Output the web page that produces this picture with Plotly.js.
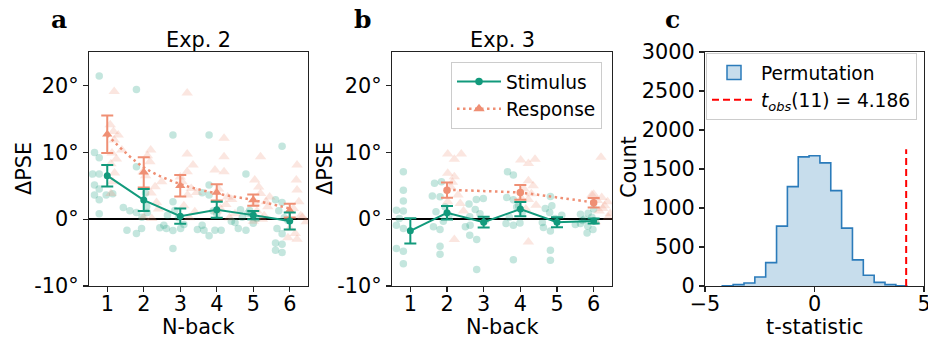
<!DOCTYPE html>
<html><head><meta charset="utf-8">
<script src="https://cdn.plot.ly/plotly-3.0.1.min.js"></script>
<style>html,body{margin:0;padding:0;background:#fff}</style>
</head><body><div id="chart" style="width:928px;height:343px"></div>
<script>
// ---------- data ----------
const nBack = [1, 2, 3, 4, 5, 6];
const respNB = [2, 4, 6];
const yTickVals = [-10, 0, 10, 20];
const yTickText = ['-10°', '0°', '10°', '20°'];

// Panel a (Exp. 2): group means and SEM
const stimMeanA = [6.5, 2.85, 0.45, 1.4, 0.6, -0.28];
const stimSemA  = [1.6, 1.65, 1.15, 1.2, 0.63, 1.28];
const respMeanA = [12.7, 7.0, 5.0, 4.0, 2.85, 1.28];
const respSemA  = [2.8, 2.25, 1.62, 1.22, 0.85, 1.02];
const respFitA  = [12.6, 7.75, 5.25, 3.85, 2.85, 1.6];

// Panel a individual subjects
const stimA_x = [0.78,0.65,0.78,0.60,0.78,0.65,0.78,0.65,0.78,0.97,1.15,0.78,
  1.80,1.80,2.05,2.08,1.44,1.62,1.80,1.95,1.94,1.54,1.80,2.10,
  2.80,2.80,2.44,2.62,2.80,3.01,2.80,2.65,2.85,3.10,2.95,2.55,
  3.79,3.79,3.60,3.79,3.47,3.65,3.79,3.95,4.12,4.00,3.90,3.60,
  4.80,4.59,4.80,4.90,4.70,4.50,4.95,4.65,5.10,4.40,4.85,5.00,
  5.79,5.61,5.79,5.70,5.85,5.65,5.79,5.61,5.79,5.61,5.79,5.95];
const stimA_y = [21.4,9.95,9.2,6.75,6.75,5.1,4.5,3.6,2.9,3.6,3.8,0.8,
  19.4,7.85,3.9,1.9,1.74,1.24,1.0,0.3,-1.4,-1.65,-2.16,1.0,
  12.6,-4.4,-1.3,-1.4,-1.7,-1.4,2.6,0.6,1.3,-0.8,0.2,-0.9,
  12.6,5.1,3.95,3.6,-1.55,-1.65,-2.5,-1.65,-1.65,0.8,1.2,-0.9,
  6.75,-1.4,-1.65,1.3,0.3,-0.5,0.8,1.4,0.1,-0.3,0.9,-0.6,
  10.9,2.9,2.5,1.25,0.2,-1.4,-2.2,-3.56,-3.76,-4.66,-5.0,-0.2];
const respA_x = [1.19,1.08,1.17,1.19,1.40,1.13,1.10,1.20,1.15,1.10,1.30,1.25,
  2.19,2.17,1.98,2.49,2.31,2.20,2.05,2.35,2.00,2.22,2.10,2.40,
  3.19,3.19,3.19,3.05,3.30,3.20,3.10,3.40,3.25,3.00,3.35,3.45,
  4.20,4.20,3.95,4.20,4.41,4.10,4.30,4.50,4.05,4.35,4.25,4.00,
  5.20,5.04,5.15,5.20,5.35,5.40,5.10,5.30,5.00,5.45,5.25,5.05,
  6.20,6.18,6.20,6.25,6.10,6.30,6.45,6.00,6.15,6.20,5.95,6.35];
const respA_y = [19.1,14.1,13.1,11.85,10.35,9.9,8.3,6.9,5.6,3.85,12.6,9.0,
  10.35,8.6,7.1,5.6,4.85,3.9,6.5,2.5,0.3,0.1,9.5,1.5,
  18.85,9.75,7.1,5.6,4.6,3.6,2.0,1.1,0.2,6.3,8.1,4.0,
  12.1,9.35,7.35,7.1,2.95,1.6,3.3,0.8,4.5,0.2,2.2,1.2,
  9.35,5.85,4.8,3.85,2.6,1.85,1.2,0.5,-0.3,3.3,0.0,2.3,
  8.1,5.85,4.35,2.6,1.6,0.5,-0.4,-1.4,-2.15,-3.0,-2.8,0.3];

// Panel b (Exp. 3): group means and SEM
const stimMeanB = [-1.75, 0.95, -0.45, 1.5, -0.45, -0.28];
const stimSemB  = [1.9, 1.0, 0.8, 1.07, 0.75, 0.38];
const respMeanB = [4.34, 4.0, 2.45];
const respSemB  = [1.15, 1.1, 0.7];
const respFitNB = [2, 3, 4, 5, 6];
const respFitB  = [4.38, 4.2, 3.95, 3.25, 2.5];

// Panel b individual subjects
const stimB_x = [0.81,0.81,0.81,0.62,0.81,0.62,0.81,0.62,0.81,0.81,0.70,
  1.66,1.85,1.60,1.81,1.95,2.05,1.90,1.63,1.81,1.81,1.81,1.70,
  2.99,2.80,2.60,2.77,2.62,3.05,2.63,2.50,2.62,2.81,2.81,2.90,
  3.65,3.81,3.63,3.81,3.95,4.05,3.70,3.99,3.61,3.81,3.81,3.90,
  4.82,4.86,4.68,4.80,5.13,4.95,4.60,4.63,4.82,4.82,4.82,5.00,
  6.00,5.85,5.64,5.95,5.75,6.05,5.64,5.50,5.84,5.98,5.82,5.70];
const stimB_y = [7.1,4.34,2.7,1.34,1.2,-0.9,-1.4,-4.4,-4.8,-6.66,0.1,
  5.35,5.6,3.45,3.35,1.8,0.6,-0.3,-1.15,-1.55,-4.05,-5.25,1.1,
  3.1,2.95,2.25,1.45,0.35,-0.2,-0.9,-1.15,-2.4,-3.05,-7.55,0.8,
  7.1,6.6,3.25,2.9,2.0,1.0,0.3,-0.56,-0.66,-0.9,-6.06,1.8,
  3.4,1.99,1.59,0.99,0.59,0.1,-0.5,-1.26,-1.76,-4.66,-6.16,-0.2,
  1.5,0.9,0.74,0.3,0.0,-0.3,-0.66,-0.8,-1.06,-1.56,-2.06,-0.2];
const respB_x = [2.02,2.20,2.39,2.02,2.20,2.10,2.02,2.36,2.20,2.30,2.45,2.15,
  4.01,4.22,4.40,4.22,4.10,4.03,4.22,4.43,4.22,4.30,4.15,4.35,
  6.20,6.00,6.22,6.38,6.25,6.45,6.05,6.30,6.15,5.95,6.40,6.10];
const respB_y = [9.75,8.95,9.75,6.85,6.35,4.8,2.6,2.35,-3.05,3.6,1.2,5.5,
  8.84,8.34,8.94,5.74,4.5,3.09,2.94,2.09,-3.41,3.8,1.5,5.0,
  9.24,3.74,3.24,2.59,1.59,0.84,-0.4,2.0,1.2,3.6,0.3,2.8];

// Panel c: permutation histogram
const binEdges = [-4.21,-3.715,-3.219,-2.724,-2.229,-1.733,-1.238,-0.743,-0.248,
  0.248,0.743,1.238,1.733,2.229,2.724,3.219,3.715,4.21];
const binCounts = [3,17,39,116,300,768,1274,1656,1669,1579,1223,742,335,137,47,17,4];
const tObs = 4.186;
const cXTicks = [-5, 0, 5];
const cXTickText = ['\u22125', '0', '5'];
const cYTicks = [0, 500, 1000, 1500, 2000, 2500, 3000];

// ---------- styles ----------
const TEAL = '#129a7c';
const SALMON = '#ef8f74';
const FONT = 'DejaVu Sans';
const FS = 20.8;
const W = 928, H = 343;
const dom = (a, b) => [a / W, b / W];
const yDom = [1 - 286 / H, 1 - 52 / H];

const traces = [];
function panel(ax, sx, sy, rx, ry, sm, ss, rNB, rm, rs, fNB, fv, respSym) {
  const xa = 'x' + ax, ya = 'y' + ax;
  traces.push({x: sx, y: sy, xaxis: xa, yaxis: ya, type: 'scatter', mode: 'markers',
    marker: {color: TEAL, opacity: 0.25, size: 7.5, symbol: 'circle'}, showlegend: false, hoverinfo: 'skip'});
  traces.push({x: rx, y: ry, xaxis: xa, yaxis: ya, type: 'scatter', mode: 'markers',
    marker: {color: SALMON, opacity: 0.22, size: 10, symbol: 'triangle-up'}, showlegend: false, hoverinfo: 'skip'});
  traces.push({x: fNB, y: fv, xaxis: xa, yaxis: ya, type: 'scatter', mode: 'lines',
    line: {color: SALMON, width: 2.5, dash: '2.5px,3.5px', shape: 'spline', smoothing: 1}, showlegend: false});
  traces.push({x: rNB, y: rm, xaxis: xa, yaxis: ya, type: 'scatter', mode: 'markers',
    marker: {color: SALMON, size: respSym === 'circle' ? 7.5 : 9, symbol: respSym},
    error_y: {type: 'data', array: rs, visible: true, color: SALMON, thickness: 2, width: 6},
    showlegend: false});
  traces.push({x: nBack, y: sm, xaxis: xa, yaxis: ya, type: 'scatter', mode: 'lines+markers',
    line: {color: TEAL, width: 2}, marker: {color: TEAL, size: 7},
    error_y: {type: 'data', array: ss, visible: true, color: TEAL, thickness: 2, width: 6},
    showlegend: false});
}
panel('', stimA_x, stimA_y, respA_x, respA_y, stimMeanA, stimSemA, nBack, respMeanA, respSemA, nBack, respFitA, 'triangle-up');
panel('2', stimB_x, stimB_y, respB_x, respB_y, stimMeanB, stimSemB, respNB, respMeanB, respSemB, respFitNB, respFitB, 'circle');

// legend-only entries for panel b
traces.push({x: [null], y: [null], xaxis: 'x2', yaxis: 'y2', type: 'scatter', mode: 'lines+markers', name: 'Stimulus',
  line: {color: TEAL, width: 2}, marker: {color: TEAL, size: 7.5}, legend: 'legend'});
traces.push({x: [null], y: [null], xaxis: 'x2', yaxis: 'y2', type: 'scatter', mode: 'lines+markers', name: 'Response',
  line: {color: SALMON, width: 2.5, dash: '2.5px,3.5px'}, marker: {color: SALMON, size: 10, symbol: 'triangle-up'}, legend: 'legend'});

// panel c histogram as step outline
const hx = [binEdges[0]], hy = [0];
binCounts.forEach((c, i) => { hx.push(binEdges[i]); hy.push(c); });
hx.push(binEdges[binEdges.length - 1]); hy.push(0);
traces.push({x: hx, y: hy, xaxis: 'x3', yaxis: 'y3', type: 'scatter', mode: 'lines',
  line: {color: '#2b7bba', width: 1.6, shape: 'hv'}, fill: 'tozeroy', fillcolor: 'rgba(31,119,180,0.25)',
  showlegend: false, hoverinfo: 'skip'});
traces.push({x: [null], y: [null], xaxis: 'x3', yaxis: 'y3', type: 'scatter', mode: 'markers', name: 'Permutation',
  marker: {symbol: 'square', size: 14, color: 'rgba(31,119,180,0.25)', line: {color: '#2b7bba', width: 1.5}},
  legend: 'legend2'});
const maxCount = Math.max(...binCounts);
traces.push({x: [tObs, tObs], y: [0, maxCount * 1.05], xaxis: 'x3', yaxis: 'y3', type: 'scatter', mode: 'lines',
  name: '<i>t</i><sub><i>obs</i></sub>(11) = 4.186', line: {color: '#ff0000', width: 2, dash: '7px,4px'},
  legend: 'legend2'});

const axBase = {showline: true, linecolor: '#222', linewidth: 1.1, mirror: true, ticks: 'outside', ticklen: 5,
  tickwidth: 1.1, tickcolor: '#222', showgrid: false, zeroline: false,
  tickfont: {family: FONT, size: FS, color: '#000'}, fixedrange: true};
const ax = (o) => Object.assign({}, axBase, o);

const ann = (text, x, y, opts) => Object.assign({text, x: x / W, y: 1 - y / H, xref: 'paper', yref: 'paper',
  showarrow: false, xanchor: 'center', yanchor: 'middle', font: {family: FONT, size: FS, color: '#000'}}, opts || {});

const legendBase = {bgcolor: 'rgba(255,255,255,0.9)', bordercolor: '#cccccc', borderwidth: 1,
  font: {family: FONT, size: 18.6, color: '#000'}, itemwidth: 44};

const layout = {
  width: W, height: H, margin: {l: 0, r: 0, t: 0, b: 0}, paper_bgcolor: '#fff', plot_bgcolor: '#fff',
  font: {family: FONT, color: '#000'},
  xaxis: ax({domain: dom(89, 308), range: [0.5, 6.5], tickvals: nBack, anchor: 'y', ticklabelstandoff: -6}),
  yaxis: ax({domain: yDom, range: [-10, 25], tickvals: yTickVals, ticktext: yTickText, anchor: 'x',
    zeroline: true, zerolinecolor: '#000', zerolinewidth: 1.3}),
  xaxis2: ax({domain: dom(392, 612), range: [0.5, 6.5], tickvals: nBack, anchor: 'y2', ticklabelstandoff: -6}),
  yaxis2: ax({domain: yDom, range: [-10, 25], tickvals: yTickVals, ticktext: yTickText, anchor: 'x2',
    zeroline: true, zerolinecolor: '#000', zerolinewidth: 1.3}),
  xaxis3: ax({domain: dom(705, 924), range: [-5, 5], tickvals: cXTicks, ticktext: cXTickText, anchor: 'y3',
    ticklabelstandoff: -6, ticklabeloverflow: 'allow'}),
  yaxis3: ax({domain: yDom, range: [0, 3000], tickvals: cYTicks, anchor: 'x3'}),
  legend: Object.assign({x: 602 / W, xanchor: 'right', y: 1 - 62 / H, yanchor: 'top'}, legendBase),
  legend2: Object.assign({x: 706 / W, xanchor: 'left', y: 1 - 53 / H, yanchor: 'top'}, legendBase),
  annotations: [
    ann('<b>a</b>', 58.5, 20, {font: {family: 'DejaVu Serif', size: 25, color: '#000'}}),
    ann('<b>b</b>', 362.5, 20, {font: {family: 'DejaVu Serif', size: 25, color: '#000'}}),
    ann('<b>c</b>', 672, 20, {font: {family: 'DejaVu Serif', size: 25, color: '#000'}}),
    ann('Exp. 2', 198.5, 39.5),
    ann('Exp. 3', 502, 39.5),
    ann('N-back', 198.5, 327),
    ann('N-back', 502, 327),
    ann('t-statistic', 814.5, 327),
    ann('ΔPSE', 24, 169, {textangle: -90}),
    ann('ΔPSE', 325, 169, {textangle: -90}),
    ann('Count', 629, 167, {textangle: -90})
  ]
};
Plotly.newPlot('chart', traces, layout, {staticPlot: true, displayModeBar: false});
</script></body></html>
